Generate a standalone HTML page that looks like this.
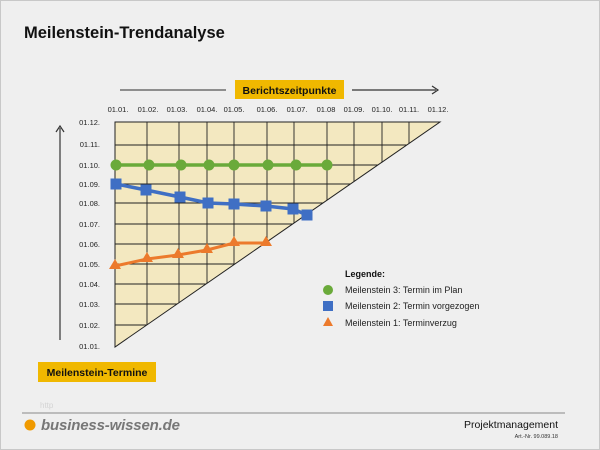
<!DOCTYPE html>
<html><head><meta charset="utf-8"><style>
body{margin:0;width:600px;height:450px;overflow:hidden;background:#efefef;font-family:"Liberation Sans",sans-serif}
</style></head><body>
<svg width="600" height="450" xmlns="http://www.w3.org/2000/svg" style="position:absolute;left:0;top:0">
<rect x="0.5" y="0.5" width="599" height="449" fill="#efefef" stroke="#c8c8c8"/>
<text x="24" y="38" font-size="16.5" font-weight="bold" fill="#111">Meilenstein-Trendanalyse</text>
<line x1="120" y1="90" x2="226" y2="90" stroke="#555" stroke-width="1.2"/>
<line x1="352" y1="90" x2="436" y2="90" stroke="#333" stroke-width="1.2"/>
<path d="M432,86 L438,90 L432,94" fill="none" stroke="#333" stroke-width="1.2"/>
<rect x="235" y="80" width="109" height="19" fill="#f0b800"/>
<text x="289.5" y="94" font-size="10.5" font-weight="bold" text-anchor="middle" fill="#111">Berichtszeitpunkte</text>
<g font-size="7.5" fill="#222" text-anchor="middle">
<text x="118" y="112">01.01.</text><text x="148" y="112">01.02.</text><text x="177" y="112">01.03.</text><text x="207" y="112">01.04.</text><text x="234" y="112">01.05.</text><text x="267" y="112">01.06.</text><text x="297" y="112">01.07.</text><text x="326" y="112">01.08</text><text x="354" y="112">01.09.</text><text x="382" y="112">01.10.</text><text x="409" y="112">01.11.</text><text x="438" y="112">01.12.</text>
</g>
<g font-size="7.5" fill="#222" text-anchor="end">
<text x="100" y="125">01.12.</text><text x="100" y="147">01.11.</text><text x="100" y="168">01.10.</text><text x="100" y="187">01.09.</text><text x="100" y="206">01.08.</text><text x="100" y="227">01.07.</text><text x="100" y="247">01.06.</text><text x="100" y="267">01.05.</text><text x="100" y="287">01.04.</text><text x="100" y="307">01.03.</text><text x="100" y="328">01.02.</text><text x="100" y="349">01.01.</text>
</g>
<line x1="60" y1="340" x2="60" y2="128" stroke="#333" stroke-width="1.2"/>
<path d="M56,132 L60,126 L64,132" fill="none" stroke="#333" stroke-width="1.2"/>
<polygon points="115,122 440,122 115,347" fill="#f3e8c0"/>
<defs><clipPath id="tri"><polygon points="115,122 440,122 115,347"/></clipPath></defs>
<g clip-path="url(#tri)" stroke="#222" stroke-width="0.9">
<line x1="147" y1="122" x2="147" y2="347"/><line x1="179" y1="122" x2="179" y2="347"/><line x1="207" y1="122" x2="207" y2="347"/><line x1="234" y1="122" x2="234" y2="347"/><line x1="267" y1="122" x2="267" y2="347"/><line x1="294" y1="122" x2="294" y2="347"/><line x1="327" y1="122" x2="327" y2="347"/><line x1="354" y1="122" x2="354" y2="347"/><line x1="382" y1="122" x2="382" y2="347"/><line x1="409" y1="122" x2="409" y2="347"/>
<line x1="115" y1="145" x2="440" y2="145"/><line x1="115" y1="165" x2="440" y2="165"/><line x1="115" y1="184" x2="440" y2="184"/><line x1="115" y1="203" x2="440" y2="203"/><line x1="115" y1="224" x2="440" y2="224"/><line x1="115" y1="244" x2="440" y2="244"/><line x1="115" y1="264" x2="440" y2="264"/><line x1="115" y1="284" x2="440" y2="284"/><line x1="115" y1="304" x2="440" y2="304"/><line x1="115" y1="325" x2="440" y2="325"/>
</g>
<polygon points="115,122 440,122 115,347" fill="none" stroke="#222" stroke-width="1"/>
<polyline points="116,165 327,165" stroke="#6aaa3a" stroke-width="3.5" fill="none"/>
<g fill="#6aaa3a"><circle cx="116" cy="165" r="5.5"/><circle cx="149" cy="165" r="5.5"/><circle cx="181" cy="165" r="5.5"/><circle cx="209" cy="165" r="5.5"/><circle cx="234" cy="165" r="5.5"/><circle cx="268" cy="165" r="5.5"/><circle cx="296" cy="165" r="5.5"/><circle cx="327" cy="165" r="5.5"/></g>
<polyline points="116,184 146,190 180,197 208,203 234,204 266,206 293,209 307,215" stroke="#3f6fc4" stroke-width="3.5" fill="none"/>
<g fill="#3f6fc4"><rect x="110.5" y="178.5" width="11" height="11"/><rect x="140.5" y="184.5" width="11" height="11"/><rect x="174.5" y="191.5" width="11" height="11"/><rect x="202.5" y="197.5" width="11" height="11"/><rect x="228.5" y="198.5" width="11" height="11"/><rect x="260.5" y="200.5" width="11" height="11"/><rect x="287.5" y="203.5" width="11" height="11"/><rect x="301.5" y="209.5" width="11" height="11"/></g>
<polyline points="115,266 147,259 178,255 207,250 234,243 266,243" stroke="#ec7a2c" stroke-width="3" fill="none"/>
<g fill="#ec7a2c"><polygon points="115,259 109,269 121,269"/><polygon points="147,252 141,262 153,262"/><polygon points="178,248 172,258 184,258"/><polygon points="207,243 201,253 213,253"/><polygon points="234,236 228,246 240,246"/><polygon points="266,236 260,246 272,246"/></g>
<text x="345" y="277" font-size="9" font-weight="bold" fill="#111">Legende:</text>
<circle cx="328" cy="290" r="5" fill="#6aaa3a"/><text x="345" y="293" font-size="9" fill="#222">Meilenstein 3: Termin im Plan</text>
<rect x="323" y="301" width="10" height="10" fill="#3f6fc4"/><text x="345" y="309" font-size="9" fill="#222">Meilenstein 2: Termin vorgezogen</text>
<polygon points="328,317 323,326 333,326" fill="#ec7a2c"/><text x="345" y="326" font-size="9" fill="#222">Meilenstein 1: Terminverzug</text>
<rect x="38" y="362" width="118" height="20" fill="#f0b800"/>
<text x="97" y="376" font-size="10.5" font-weight="bold" text-anchor="middle" fill="#111">Meilenstein-Termine</text>
<text x="40" y="408" font-size="8" fill="#d4d4d4">http</text>
<line x1="22" y1="413" x2="565" y2="413" stroke="#888" stroke-width="1"/>
<circle cx="30" cy="425" r="5.5" fill="#f09a00"/>
<text x="41" y="430" font-size="15" font-weight="bold" font-style="italic" fill="#777" textLength="139">business-wissen.de</text>
<text x="558" y="428" font-size="10.5" text-anchor="end" fill="#111">Projektmanagement</text>
<text x="558" y="438" font-size="5.5" text-anchor="end" fill="#333">Art.-Nr. 99.089.18</text>
</svg>
</body></html>
